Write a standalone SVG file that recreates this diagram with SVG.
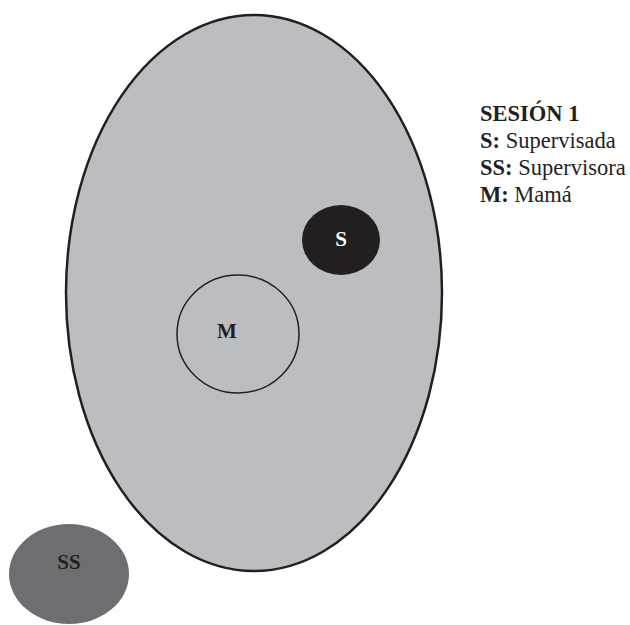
<svg xmlns="http://www.w3.org/2000/svg" width="630" height="625" viewBox="0 0 630 625">
<style>
.lbl{font-family:"Liberation Serif","Times New Roman",serif;font-weight:bold;font-size:21px;text-anchor:middle}
.leg{font-family:"Liberation Serif","Times New Roman",serif;font-size:22.5px;fill:#231f20}
.b{font-weight:bold}
</style>
<rect width="630" height="625" fill="#ffffff"/>
<g id="session">
<ellipse cx="254" cy="293" rx="188" ry="278" fill="#bcbdc0" stroke="#231f20" stroke-width="2.5"/>
</g>
<g id="connectors"></g>
<g id="node-S">
<ellipse cx="341" cy="240" rx="39" ry="35" fill="#231f20"/>
<text class="lbl" x="341" y="246" fill="#ffffff">S</text>
</g>
<g id="node-M">
<ellipse cx="238" cy="334" rx="61" ry="59" fill="none" stroke="#231f20" stroke-width="1.5"/>
<text class="lbl" x="227" y="338" fill="#231f20">M</text>
</g>
<g id="node-SS">
<ellipse cx="69" cy="574" rx="60" ry="50" fill="#6d6e71"/>
<text class="lbl" x="69" y="569" fill="#231f20">SS</text>
</g>
<g id="legend">
<text class="leg b" x="480" y="121">SESIÓN 1</text>
<text class="leg" x="480" y="148"><tspan class="b">S:</tspan> Supervisada</text>
<text class="leg" x="480" y="175"><tspan class="b">SS:</tspan> Supervisora</text>
<text class="leg" x="480" y="202"><tspan class="b">M:</tspan> Mamá</text>
</g>
</svg>
